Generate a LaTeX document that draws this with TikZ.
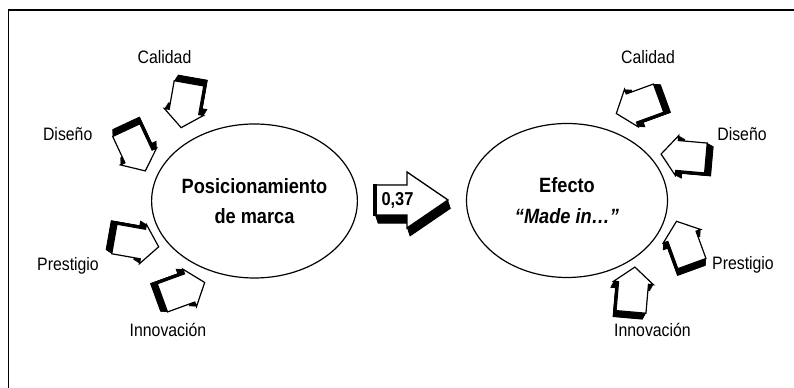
\documentclass[tikz,border=0pt]{standalone}
\usepackage{fontspec}
\setmainfont{Liberation Sans}[FakeStretch=0.88]
\usetikzlibrary{shapes.geometric}
\tikzset{
  bubble/.style={ellipse, draw, line width=0.9pt, minimum width=150.75pt, minimum height=115.5pt, inner sep=0pt, align=center, font=\fontsize{15.5}{23}\selectfont\bfseries},
  tag/.style={anchor=base, inner sep=0pt, font=\fontsize{13.5}{16}\selectfont},
  % small 3-d arrow, #1/#2 = depth of the black side
  pics/arrowblock/.style n args={2}{code={
    \foreach \k in {0,0.05,...,1}
      \fill[black, shift={(\k*#1,\k*#2)}] (-23,-15) -- (6,-15) -- (6,-20) -- (22,0) -- (6,20) -- (6,15) -- (-23,15) -- cycle;
    \draw[fill=white, line width=0.9pt, line join=miter] (-23,-15) -- (6,-15) -- (6,-20) -- (22,0) -- (6,20) -- (6,15) -- (-23,15) -- cycle;
  }},
  pics/arrowbig/.style n args={2}{code={
    \foreach \k in {0,0.05,...,1}
      \fill[black, shift={(\k*#1,\k*#2)}] (0,-15) -- (32,-15) -- (32,-28) -- (73,0) -- (32,28) -- (32,15) -- (0,15) -- cycle;
    \draw[fill=white, line width=1pt, line join=miter] (0,-15) -- (32,-15) -- (32,-28) -- (73,0) -- (32,28) -- (32,15) -- (0,15) -- cycle;
    \draw[line width=2.5pt] (0,-16) -- (0,16);
  }}
}
\begin{document}
\begin{tikzpicture}[x=0.75pt, y=0.75pt]
  \useasboundingbox (0,0) rectangle (794,388);
  \draw[line width=1pt] (8.5,0) -- (8.5,378) -- (794,378);

  % left side
  \node[bubble] (posic) at (254.5,187) {Posicionamiento\\de marca};
  \pic[rotate=-100] at (185,282) {arrowblock={-7}{3}};
  \pic[rotate=-65] at (136,237) {arrowblock={-7}{3}};
  \pic[rotate=-10] at (137,145) {arrowblock={-7}{3}};
  \pic[rotate=20] at (184,98) {arrowblock={-7}{3}};
  \node[tag] (lcal) at (164.5,324) {Calidad};
  \node[tag] (ldis) at (67.7,247.3) {Diseño};
  \node[tag] (lpre) at (68,117.3) {Prestigio};
  \node[tag] (linn) at (168,51.3) {Innovación};

  % middle
  \pic at (375,188) {arrowbig={3}{-9}};
  \node[font=\fontsize{14}{16}\selectfont\bfseries, inner sep=0pt] (coef) at (397.5,188) {0,37};

  % right side
  \node[bubble] (efecto) at (567,187.5) {Efecto\\\textit{“Made in…”}};
  \pic[rotate=-160] at (637,282) {arrowblock={-7}{3}};
  \pic[rotate=175] at (683,232) {arrowblock={-7}{3}};
  \pic[rotate=110] at (684,146) {arrowblock={-7}{3}};
  \pic[rotate=85] at (633,99) {arrowblock={-7}{3}};
  \node[tag] (rcal) at (648,324.7) {Calidad};
  \node[tag] (rdis) at (742,247) {Diseño};
  \node[tag] (rpre) at (743,118) {Prestigio};
  \node[tag] (rinn) at (652.5,51.3) {Innovación};
\end{tikzpicture}
\end{document}
